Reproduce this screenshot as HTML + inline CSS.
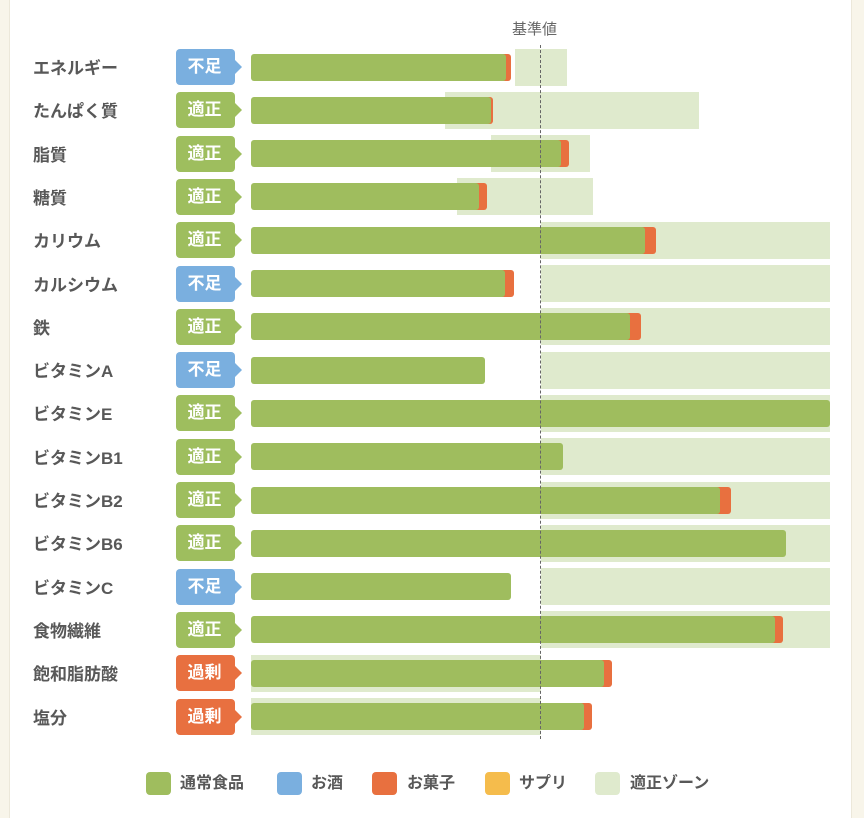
<!DOCTYPE html>
<html><head><meta charset="utf-8"><style>
*{margin:0;padding:0;box-sizing:border-box}
body{width:864px;height:818px;background:#f8f5ea;position:relative;overflow:hidden;font-family:"Liberation Sans","Noto Sans CJK JP",sans-serif}
.card{position:absolute;left:9px;top:0;width:843px;height:818px;background:#fff;border-left:1px solid #ece8da;border-right:1px solid #ece8da}
.a{position:absolute}
.lb{position:absolute;left:33px;font-size:17px;font-weight:bold;color:#585858;height:26px;line-height:26px;margin-top:2px}
.bd{position:absolute;left:176px;width:59px;height:36px;border-radius:4px;color:#fff;font-size:17px;font-weight:bold;line-height:36px;text-align:center;padding-right:2px}
.bd:after{content:"";position:absolute;right:-7px;top:11px;border-top:7px solid transparent;border-bottom:7px solid transparent;border-left:7px solid currentColor}
.b{background:#7aafdf}.b:after{border-left-color:#7aafdf}
.g{background:#9ebe5e}.g:after{border-left-color:#9ebe5e}
.o{background:#e87040}.o:after{border-left-color:#e87040}
.z{position:absolute;background:#dfeacd;height:37px}
.gr{position:absolute;left:251px;background:#9fbd5e;height:27px;border-radius:3px}
.or{position:absolute;background:#e8703f;height:27px;border-radius:0 3px 3px 0}
.lg{position:absolute;top:772px;width:25px;height:23px;border-radius:4px}
.lt{position:absolute;top:772px;font-size:16px;font-weight:bold;color:#585858;line-height:23px}
</style></head><body>
<div class="card"></div>
<div class="a" style="left:512px;top:18px;font-size:15px;color:#666">基準値</div>

<div class="z" style="left:515px;width:52px;top:48.5px"></div>
<div class="z" style="left:445px;width:254px;top:91.8px"></div>
<div class="z" style="left:491px;width:99px;top:135.1px"></div>
<div class="z" style="left:457px;width:136px;top:178.4px"></div>
<div class="z" style="left:541px;width:289px;top:221.7px"></div>
<div class="z" style="left:541px;width:289px;top:265px"></div>
<div class="z" style="left:541px;width:289px;top:308.3px"></div>
<div class="z" style="left:541px;width:289px;top:351.6px"></div>
<div class="z" style="left:541px;width:289px;top:394.9px"></div>
<div class="z" style="left:541px;width:289px;top:438.2px"></div>
<div class="z" style="left:541px;width:289px;top:481.5px"></div>
<div class="z" style="left:541px;width:289px;top:524.8px"></div>
<div class="z" style="left:541px;width:289px;top:568.1px"></div>
<div class="z" style="left:541px;width:289px;top:611.4px"></div>
<div class="z" style="left:251px;width:290px;top:654.7px"></div>
<div class="z" style="left:251px;width:290px;top:698px"></div>

<div class="or" style="left:500px;width:11px;top:53.5px"></div><div class="gr" style="width:255px;top:53.5px"></div>
<div class="or" style="left:485px;width:8px;top:96.8px"></div><div class="gr" style="width:240px;top:96.8px"></div>
<div class="or" style="left:555px;width:14px;top:140.1px"></div><div class="gr" style="width:310px;top:140.1px"></div>
<div class="or" style="left:473px;width:14px;top:183.4px"></div><div class="gr" style="width:228px;top:183.4px"></div>
<div class="or" style="left:640px;width:16px;top:226.7px"></div><div class="gr" style="width:394px;top:226.7px"></div>
<div class="or" style="left:500px;width:14px;top:270px"></div><div class="gr" style="width:254px;top:270px"></div>
<div class="or" style="left:625px;width:16px;top:313.3px"></div><div class="gr" style="width:379px;top:313.3px"></div>
<div class="gr" style="width:234px;top:356.6px"></div>
<div class="gr" style="width:579px;top:399.9px"></div>
<div class="gr" style="width:312px;top:443.2px"></div>
<div class="or" style="left:715px;width:16px;top:486.5px"></div><div class="gr" style="width:469px;top:486.5px"></div>
<div class="gr" style="width:535px;top:529.8px"></div>
<div class="gr" style="width:260px;top:573.1px"></div>
<div class="or" style="left:770px;width:13px;top:616.4px"></div><div class="gr" style="width:524px;top:616.4px"></div>
<div class="or" style="left:598px;width:14px;top:659.7px"></div><div class="gr" style="width:353px;top:659.7px"></div>
<div class="or" style="left:578px;width:14px;top:703px"></div><div class="gr" style="width:333px;top:703px"></div>

<div class="a" style="left:540px;top:45px;height:694px;border-left:1px dashed #666"></div>

<div class="lb" style="top:54px">エネルギー</div>
<div class="lb" style="top:97.3px">たんぱく質</div>
<div class="lb" style="top:140.6px">脂質</div>
<div class="lb" style="top:183.9px">糖質</div>
<div class="lb" style="top:227.2px">カリウム</div>
<div class="lb" style="top:270.5px">カルシウム</div>
<div class="lb" style="top:313.8px">鉄</div>
<div class="lb" style="top:357.1px">ビタミンA</div>
<div class="lb" style="top:400.4px">ビタミンE</div>
<div class="lb" style="top:443.7px">ビタミンB1</div>
<div class="lb" style="top:487px">ビタミンB2</div>
<div class="lb" style="top:530.3px">ビタミンB6</div>
<div class="lb" style="top:573.6px">ビタミンC</div>
<div class="lb" style="top:616.9px">食物繊維</div>
<div class="lb" style="top:660.2px">飽和脂肪酸</div>
<div class="lb" style="top:703.5px">塩分</div>

<div class="bd b" style="top:49px">不足</div>
<div class="bd g" style="top:92.3px">適正</div>
<div class="bd g" style="top:135.6px">適正</div>
<div class="bd g" style="top:178.9px">適正</div>
<div class="bd g" style="top:222.2px">適正</div>
<div class="bd b" style="top:265.5px">不足</div>
<div class="bd g" style="top:308.8px">適正</div>
<div class="bd b" style="top:352.1px">不足</div>
<div class="bd g" style="top:395.4px">適正</div>
<div class="bd g" style="top:438.7px">適正</div>
<div class="bd g" style="top:482px">適正</div>
<div class="bd g" style="top:525.3px">適正</div>
<div class="bd b" style="top:568.6px">不足</div>
<div class="bd g" style="top:611.9px">適正</div>
<div class="bd o" style="top:655.2px">過剰</div>
<div class="bd o" style="top:698.5px">過剰</div>

<div class="lg" style="left:146px;background:#9fbd5e"></div><div class="lt" style="left:180px">通常食品</div>
<div class="lg" style="left:277px;background:#7aafdf"></div><div class="lt" style="left:311px">お酒</div>
<div class="lg" style="left:372px;background:#e8703f"></div><div class="lt" style="left:407px">お菓子</div>
<div class="lg" style="left:485px;background:#f5bc4c"></div><div class="lt" style="left:519px">サプリ</div>
<div class="lg" style="left:595px;background:#dfeacd"></div><div class="lt" style="left:630px">適正ゾーン</div>
</body></html>
